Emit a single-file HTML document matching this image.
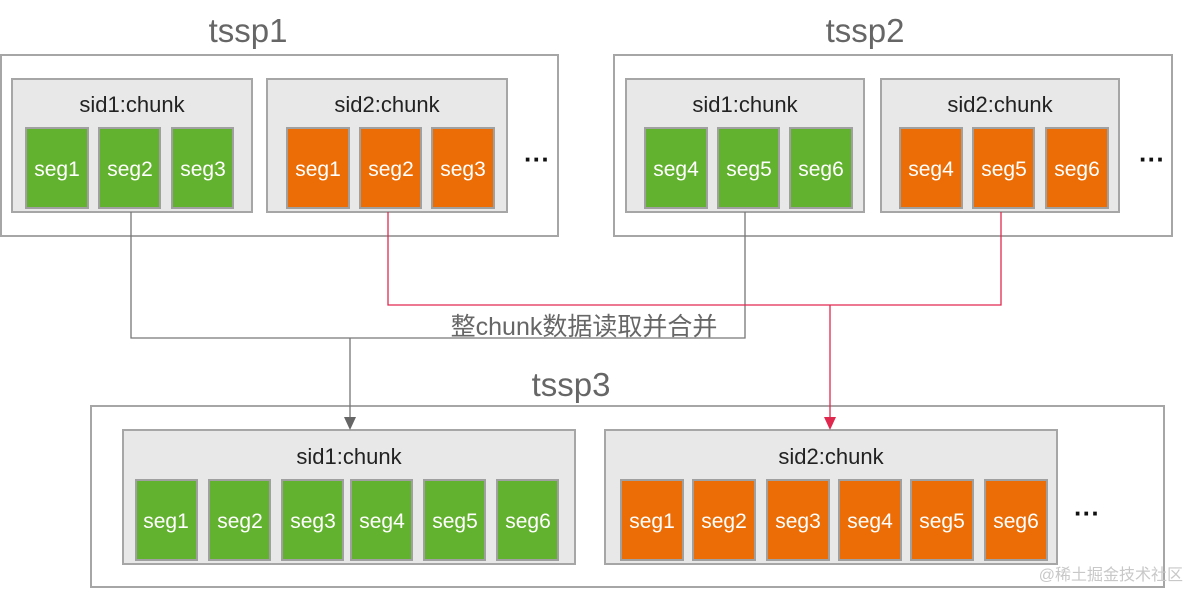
<!DOCTYPE html>
<html><head><meta charset="utf-8"><style>
html,body{margin:0;padding:0;background:#fff;}
svg{display:block;}
text{font-family:"Liberation Sans","Noto Sans CJK SC",sans-serif;}
.o{fill:#fff;stroke:#a6a6a6;stroke-width:2;}
.c{fill:#e8e8e8;stroke:#a6a6a6;stroke-width:2;}
.g{fill:#62b22f;stroke:#a0a0a0;stroke-width:2;}
.r{fill:#ec6d05;stroke:#a0a0a0;stroke-width:2;}
.st{fill:#fff;font-size:21px;text-anchor:middle;}
.ct{fill:#222;font-size:22px;text-anchor:middle;}
.tt{fill:#666;font-size:33px;text-anchor:middle;}
.dots{fill:#111;font-size:26px;text-anchor:middle;font-weight:bold;}
</style></head><body>
<svg width="1189" height="589" viewBox="0 0 1189 589" xmlns="http://www.w3.org/2000/svg">
<!-- tssp1 -->
<text class="tt" x="248" y="42">tssp1</text>
<rect class="o" x="1" y="55" width="557" height="181"/>
<rect class="c" x="12" y="79" width="240" height="133"/>
<text class="ct" x="132" y="112">sid1:chunk</text>
<rect class="g" x="26" y="128" width="62" height="80"/><text class="st" x="57" y="176">seg1</text>
<rect class="g" x="99" y="128" width="61" height="80"/><text class="st" x="130" y="176">seg2</text>
<rect class="g" x="172" y="128" width="61" height="80"/><text class="st" x="203" y="176">seg3</text>
<rect class="c" x="267" y="79" width="240" height="133"/>
<text class="ct" x="387" y="112">sid2:chunk</text>
<rect class="r" x="287" y="128" width="62" height="80"/><text class="st" x="318" y="176">seg1</text>
<rect class="r" x="360" y="128" width="61" height="80"/><text class="st" x="391" y="176">seg2</text>
<rect class="r" x="432" y="128" width="62" height="80"/><text class="st" x="463" y="176">seg3</text>
<text class="dots" x="537" y="168">···</text>
<!-- tssp2 -->
<text class="tt" x="865" y="42">tssp2</text>
<rect class="o" x="614" y="55" width="558" height="181"/>
<rect class="c" x="626" y="79" width="238" height="133"/>
<text class="ct" x="745" y="112">sid1:chunk</text>
<rect class="g" x="645" y="128" width="62" height="80"/><text class="st" x="676" y="176">seg4</text>
<rect class="g" x="718" y="128" width="61" height="80"/><text class="st" x="749" y="176">seg5</text>
<rect class="g" x="790" y="128" width="62" height="80"/><text class="st" x="821" y="176">seg6</text>
<rect class="c" x="881" y="79" width="238" height="133"/>
<text class="ct" x="1000" y="112">sid2:chunk</text>
<rect class="r" x="900" y="128" width="62" height="80"/><text class="st" x="931" y="176">seg4</text>
<rect class="r" x="973" y="128" width="61" height="80"/><text class="st" x="1004" y="176">seg5</text>
<rect class="r" x="1046" y="128" width="62" height="80"/><text class="st" x="1077" y="176">seg6</text>
<text class="dots" x="1152" y="168">···</text>
<!-- tssp3 -->
<text class="tt" x="571" y="396">tssp3</text>
<rect class="o" x="91" y="406" width="1073" height="181"/>
<rect class="c" x="123" y="430" width="452" height="134"/>
<text class="ct" x="349" y="464">sid1:chunk</text>
<rect class="g" x="136" y="480" width="61" height="80"/><text class="st" x="166" y="528">seg1</text>
<rect class="g" x="209" y="480" width="61" height="80"/><text class="st" x="240" y="528">seg2</text>
<rect class="g" x="282" y="480" width="61" height="80"/><text class="st" x="313" y="528">seg3</text>
<rect class="g" x="351" y="480" width="61" height="80"/><text class="st" x="382" y="528">seg4</text>
<rect class="g" x="424" y="480" width="61" height="80"/><text class="st" x="455" y="528">seg5</text>
<rect class="g" x="497" y="480" width="61" height="80"/><text class="st" x="528" y="528">seg6</text>
<rect class="c" x="605" y="430" width="452" height="134"/>
<text class="ct" x="831" y="464">sid2:chunk</text>
<rect class="r" x="621" y="480" width="62" height="80"/><text class="st" x="652" y="528">seg1</text>
<rect class="r" x="693" y="480" width="62" height="80"/><text class="st" x="724" y="528">seg2</text>
<rect class="r" x="767" y="480" width="62" height="80"/><text class="st" x="798" y="528">seg3</text>
<rect class="r" x="839" y="480" width="62" height="80"/><text class="st" x="870" y="528">seg4</text>
<rect class="r" x="911" y="480" width="62" height="80"/><text class="st" x="942" y="528">seg5</text>
<rect class="r" x="985" y="480" width="62" height="80"/><text class="st" x="1016" y="528">seg6</text>
<text class="dots" x="1087" y="522">···</text>
<!-- connectors -->
<polyline points="131,212 131,338 745,338 745,212" fill="none" stroke="#777" stroke-width="1.3"/>
<line x1="350" y1="338" x2="350" y2="418" stroke="#777" stroke-width="1.3"/>
<polygon points="344,417 356,417 350,430" fill="#666"/>
<polyline points="388,212 388,305 1001,305 1001,212" fill="none" stroke="#e0284f" stroke-width="1.3"/>
<line x1="830" y1="305" x2="830" y2="418" stroke="#e0284f" stroke-width="1.3"/>
<polygon points="824,417 836,417 830,430" fill="#e0284f"/>
<text x="584" y="335" fill="#666" font-size="25" text-anchor="middle">整chunk数据读取并合并</text>
<text x="1183" y="580" fill="#c8c8c8" font-size="16" text-anchor="end">@稀土掘金技术社区</text>
</svg>
</body></html>
